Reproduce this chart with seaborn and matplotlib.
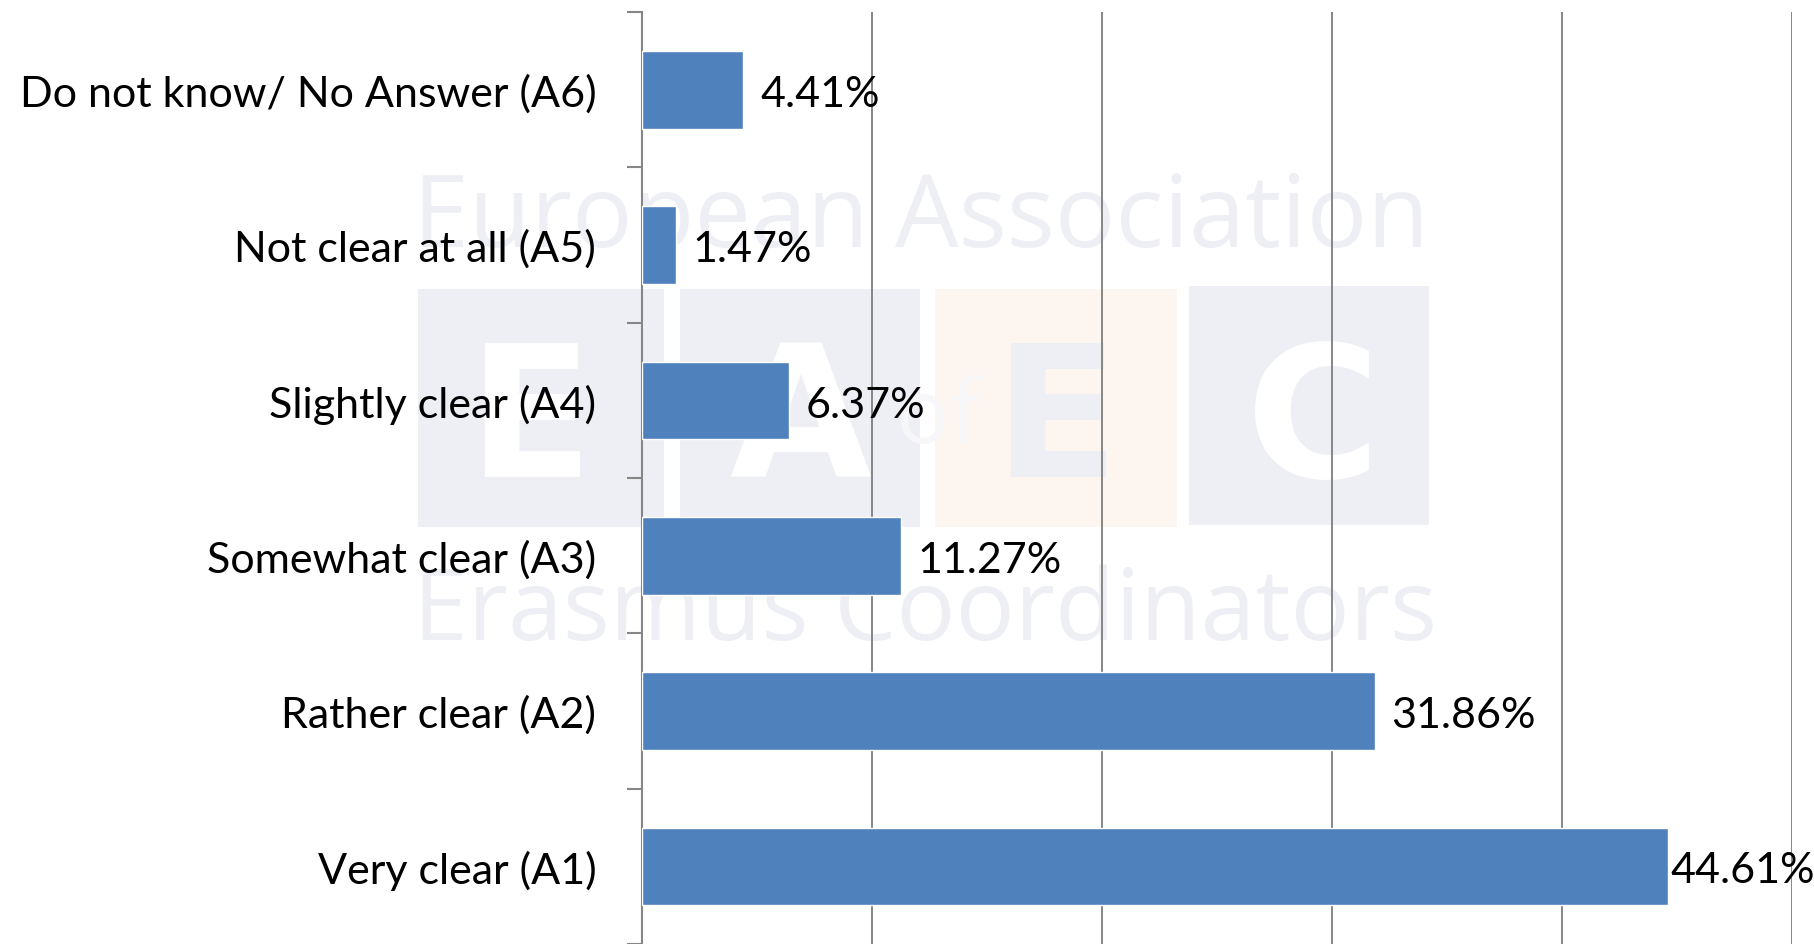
import matplotlib
matplotlib.use("Agg")
import matplotlib.pyplot as plt
from matplotlib.patches import Rectangle
import seaborn as sns
import pandas as pd

# Survey answers, listed top to bottom
categories = [
    "Do not know/ No Answer (A6)",
    "Not clear at all (A5)",
    "Slightly clear (A4)",
    "Somewhat clear (A3)",
    "Rather clear (A2)",
    "Very clear (A1)",
]
shares = [4.41, 1.47, 6.37, 11.27, 31.86, 44.61]
value_labels = ["4.41%", "1.47%", "6.37%", "11.27%", "31.86%", "44.61%"]
x_gridlines = [10, 20, 30, 40, 50]

df = pd.DataFrame({"category": categories, "share": shares})

sns.set_theme(style="white")
plt.rcParams["font.family"] = ["Lato", "DejaVu Sans"]

W, H = 1814, 945
fig = plt.figure(figsize=(W / 100, H / 100), dpi=100)
fig.patch.set_facecolor("white")
ax = fig.add_axes([642 / W, 0.0, (1792 - 642) / W, 1 - 13 / H])
ax.patch.set_alpha(0)

# Faint association logo behind the plot (figure pixel coordinates)
wm_blue = "#EEEFF4"
wm_orange = "#FDF5EF"
px = lambda x, y: (x / W, 1 - y / H)
for x0, x1, y0, y1, col in [
    (418, 664, 290, 528, wm_blue),
    (680, 920, 290, 528, wm_blue),
    (935, 1177, 290, 528, wm_orange),
    (1189, 1429, 287, 526, wm_blue),
]:
    fig.patches.append(Rectangle(px(x0, y1), (x1 - x0) / W, (y1 - y0) / H,
                                 transform=fig.transFigure, facecolor=col,
                                 edgecolor="none", zorder=-5))
fig.text(*px(413, 247), "European Association", fontsize=72.5, color=wm_blue,
         family="Open Sans", ha="left", va="baseline", zorder=-4)
fig.text(*px(413, 640), "Erasmus Coordinators", fontsize=71, color=wm_blue,
         family="Open Sans", ha="left", va="baseline", zorder=-4)
for xc, letter, col in [(530, "E", "white"), (800, "A", "white"),
                        (1056, "E", wm_blue), (1313, "C", "white")]:
    fig.text(*px(xc, 477), letter, fontsize=132, color=col, weight="bold",
             family="DejaVu Sans", ha="center", va="baseline", zorder=-4)
fig.text(*px(938, 443), "of", fontsize=64, color="#F7F7F9",
         family="Open Sans", ha="center", va="baseline", zorder=-3)

sns.barplot(data=df, x="share", y="category", orient="h", color="#4F81BD",
            width=0.5, saturation=1, ax=ax, zorder=3)

ax.set_xlim(0, 50)
ax.set_ylim(5.5, -0.5)
ax.set_xlabel("")
ax.set_ylabel("")
ax.set_xticks(x_gridlines)
ax.set_xticklabels([])
ax.tick_params(axis="x", length=0)
ax.xaxis.grid(True, color="#868686", linewidth=1.4)
ax.yaxis.grid(False)
ax.set_axisbelow(True)

for side in ["top", "right", "bottom"]:
    ax.spines[side].set_visible(False)
ax.spines["left"].set_color("#868686")
ax.spines["left"].set_linewidth(1.5)

ax.set_yticks([i - 0.5 for i in range(len(categories) + 1)], minor=True)
ax.tick_params(axis="y", which="minor", length=11, width=1.5, color="#868686",
               direction="out", left=True)
ax.tick_params(axis="y", which="major", length=0, pad=33, labelsize=31,
               labelcolor="black")

for i, (v, lab) in enumerate(zip(shares, value_labels)):
    pad = 12 if v < 40 else 2
    ax.annotate(lab, xy=(v, i), xytext=(pad, -3), textcoords="offset points",
                ha="left", va="center", fontsize=31, color="black",
                annotation_clip=False, zorder=5)

fig.savefig("out.png", dpi=100)
